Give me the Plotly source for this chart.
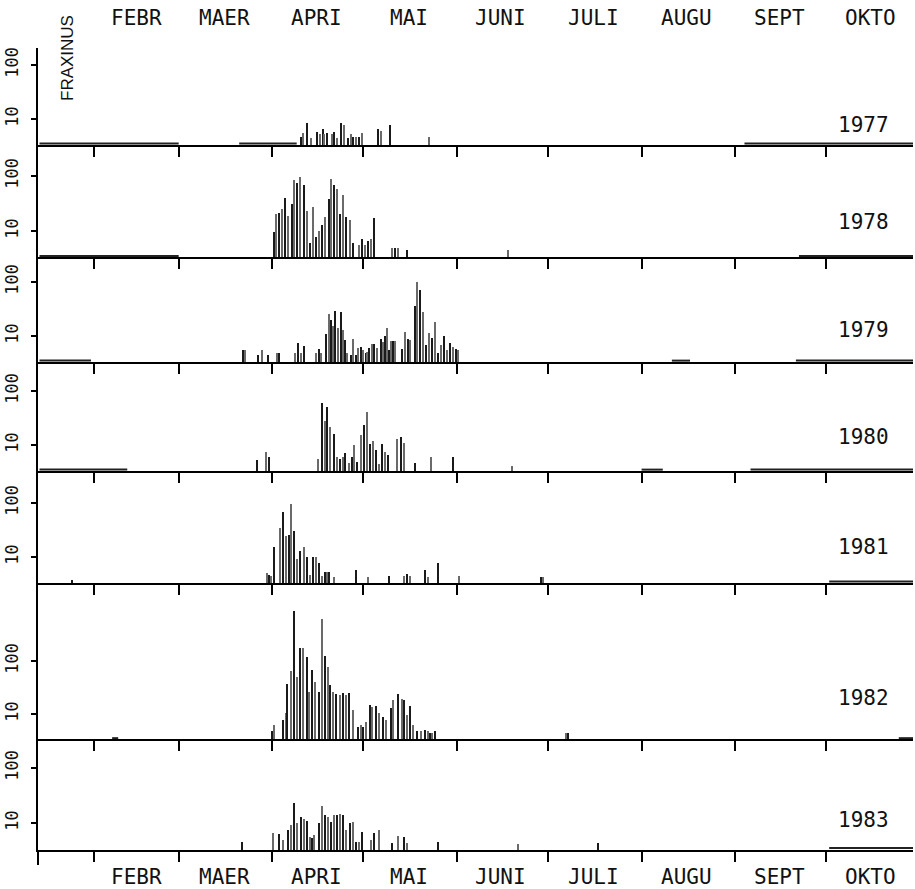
import plotly.graph_objects as go

# ---------------- data ----------------
years = ["1977", "1978", "1979", "1980", "1981", "1982", "1983"]
month_starts = [32, 60, 91, 121, 152, 182, 213, 244, 274]          # day of year
month_mids = [46, 75, 105.5, 136, 166.5, 197, 228, 258.5, 288.5]
month_labels = ["FEBR", "MAER", "APRI", "MAI", "JUNI", "JULI", "AUGU", "SEPT", "OKTO"]
taxon = "FRAXINUS"

days_1977 = [100.4, 101.2, 102.6, 103.7, 105.8, 106.7, 107.6, 108.1, 108.9, 110.8, 111.4, 112.4,
             113.8, 114.6, 116.0, 116.9, 117.7, 118.6, 119.5, 120.7, 125.9, 126.8, 129.9, 142.8]
vals_1977 = [4.6, 5.6, 8.3, 4.4, 5.7, 5.3, 6.5, 5.3, 5.6, 5.3, 5.7, 4.5,
             8.3, 7.6, 4.5, 5.3, 4.6, 4.7, 4.7, 5.5, 6.5, 6.1, 7.9, 4.6]

days_1978 = [91.4, 92.3, 93.3, 94.2, 95.2, 96.2, 97.4, 98.3, 99.3, 100.3, 101.3, 102.5, 103.4,
             104.4, 105.4, 106.3, 107.3, 108.5, 109.6, 110.4, 111.4, 112.4, 113.4, 114.5, 115.4,
             116.5, 117.5, 119.5, 120.6, 121.6, 122.5, 123.5, 124.5, 130.6, 131.4, 132.6, 135.6, 168.9]
vals_1978 = [9.7, 20, 21, 25, 39, 19, 31, 85, 74, 95, 69, 23, 6,
             27, 7.9, 10, 13, 18, 38, 89, 69, 57, 20, 46, 18,
             16, 6, 5.6, 7.2, 5.6, 6.7, 7.2, 17, 4.9, 4.9, 4.9, 4.6, 4.5]

days_1979 = [81.4, 82.1, 86.3, 87.5, 89.4, 92.4, 93.3, 98.4, 99.5, 100.4, 101.4, 105.5, 106.4,
             107.0, 108.6, 109.6, 110.4, 111.0, 111.8, 112.7, 113.7, 114.5, 115.0, 115.8, 116.9,
             117.8, 118.6, 119.4, 120.3, 121.0, 121.8, 122.4, 123.0, 123.8, 124.6, 125.6, 126.8,
             127.7, 128.2, 128.8, 129.4, 130.2, 130.9, 131.7, 133.7, 134.8, 135.7, 136.5, 138.0,
             138.9, 139.9, 140.7, 141.8, 142.9, 143.7, 144.7, 145.8, 146.7, 147.7, 148.7, 149.7,
             150.7, 151.7, 152.3]
vals_1979 = [5.5, 5.5, 4.5, 5.5, 4.5, 4.8, 4.8, 4.8, 7.5, 4.8, 6.5, 4.8, 5.7,
             4.8, 11, 26, 20, 15, 29, 14, 28, 13, 8.4, 4.9, 4.5,
             8.7, 4.5, 5.9, 6.2, 5.5, 4.9, 5.1, 5.9, 7.1, 7.1, 5.9, 8.7,
             7.8, 10, 14, 5.5, 8.2, 8.2, 8.2, 5.7, 12, 8.7, 8.4, 36,
             102, 71, 28, 6.8, 11.5, 9.1, 18, 4.9, 6.8, 10, 5.5, 7.5,
             6.3, 5.7, 5.5]

days_1980 = [86.0, 88.9, 90.0, 106.1, 107.4, 108.3, 109.2, 110.2, 111.3, 112.3, 113.3, 114.3,
             115.1, 116.2, 117.2, 118.1, 119.1, 120.4, 121.3, 122.3, 123.4, 124.3, 125.1, 126.3,
             127.3, 128.3, 129.3, 132.2, 133.4, 134.4, 138.3, 143.5, 150.6, 170.2]
vals_1980 = [5.3, 7.5, 6.1, 5.4, 59, 28, 50, 22, 16, 5.9, 5.4, 5.9,
             7.0, 4.7, 5.9, 10, 4.9, 15, 23, 40, 10.4, 12, 8.1, 4.4,
             10.4, 7.5, 6.5, 13, 14, 10.7, 4.6, 5.9, 5.9, 4.0]

days_1981 = [24.7, 89.1, 90.0, 90.5, 91.4, 93.4, 94.4, 95.4, 96.4, 97.3, 98.2, 99.3, 100.3,
             101.3, 102.3, 103.3, 104.3, 105.3, 106.3, 107.3, 108.3, 109.0, 109.7, 111.4, 118.6,
             122.6, 129.5, 134.6, 135.5, 136.5, 141.4, 142.5, 145.7, 152.6, 179.8, 180.5]
vals_1981 = [3.7, 5.1, 4.6, 4.4, 15, 35, 67, 24, 26, 94, 30, 9.1, 13,
             15, 10, 4.6, 10, 10, 7.6, 4.4, 5.3, 5.3, 5.3, 4.3, 5.7,
             4.3, 4.4, 4.4, 4.9, 4.4, 5.7, 4.3, 7.6, 4.4, 4.3, 4.3]

days_1982 = [91.0, 91.7, 94.4, 95.4, 95.9, 97.1, 98.2, 99.2, 100.1, 101.1, 102.3, 103.1, 104.2,
             105.2, 106.3, 107.3, 108.3, 109.3, 110.2, 111.2, 112.2, 113.3, 114.3, 115.3, 116.4,
             117.6, 119.4, 120.3, 121.0, 122.1, 123.2, 124.1, 125.1, 126.4, 127.5, 128.6, 130.2,
             130.9, 132.6, 133.7, 134.5, 135.4, 136.5, 137.6, 138.7, 140.0, 141.4, 142.3, 143.0, 143.8, 144.6,
             188.0, 188.6]
vals_1982 = [4.7, 6.2, 7.7, 10.6, 37, 66, 870, 49, 174, 174, 120, 26, 68,
             41, 26, 610, 124, 76, 35, 26, 24, 23, 25, 23, 25,
             11.9, 5.8, 6.2, 5.8, 7.2, 15, 13.7, 14, 10.3, 8.9, 7.7, 12.8,
             18, 24, 19, 18, 9.6, 14, 6.2, 4.7, 4.7, 5.0, 4.7, 4.3, 4.3, 4.7,
             4.4, 4.4]

days_1983 = [81.0, 91.3, 93.3, 94.4, 96.2, 97.2, 98.3, 99.3, 100.4, 101.3, 102.3, 103.4, 104.2,
             104.7, 106.5, 107.4, 108.4, 109.4, 110.3, 111.4, 112.4, 113.4, 114.4, 115.5, 116.6,
             117.5, 118.6, 119.6, 120.6, 123.6, 124.6, 126.3, 130.6, 132.6, 134.6, 135.6, 145.6,
             172.2, 198.6]
vals_1983 = [4.6, 6.5, 6.2, 5.0, 7.4, 9.2, 23, 10, 12.7, 12, 11, 5.6, 5.3,
             6, 10, 20, 14, 13, 10.5, 14, 14, 14.4, 14, 7.4, 10,
             10.3, 4.6, 4.6, 6.8, 5, 6.6, 7.4, 4.4, 5.8, 5.6, 4.3, 4.6,
             4.2, 4.4]

# periods with very low counts, drawn as thin runs just above the baseline (start day, end day)
low_1977 = [(14, 60), (80, 99), (247, 303)]
low_1978 = [(14, 60), (265, 303)]
low_1979 = [(14, 31), (223, 229), (264, 303)]
low_1980 = [(14, 43), (213, 220), (249, 303)]
low_1981 = [(275, 303)]
low_1982 = [(38, 40), (298, 303)]
low_1983 = [(275, 303)]
low_level = 3.5

all_days = [days_1977, days_1978, days_1979, days_1980, days_1981, days_1982, days_1983]
all_vals = [vals_1977, vals_1978, vals_1979, vals_1980, vals_1981, vals_1982, vals_1983]
all_low = [low_1977, low_1978, low_1979, low_1980, low_1981, low_1982, low_1983]

# ---------------- layout constants (pixels) ----------------
W, H = 915, 889
X0, X1 = 38, 913
DOY_LO, DOY_HI = 13.5, 302.7
panel_top = [48, 145, 257, 362, 471, 583, 739]
panel_base = [145, 257, 362, 471, 583, 739, 850]
y10_px = [119, 231, 336, 445, 557, 714, 823]
decade_px = [54, 55, 54, 54, 54, 53, 55]
year_label_y = [125, 222, 330, 437, 547, 698, 820]

def py(p):
    return 1 - p / H

fig = go.Figure()
layout = dict(
    width=W, height=H, margin=dict(l=0, r=0, t=0, b=0, autoexpand=False),
    paper_bgcolor="white", plot_bgcolor="rgba(0,0,0,0)",
    showlegend=False, bargap=0,
)

mono = "DejaVu Sans Mono"
bar_colors = ["#1a1a1a", "#6a6a6a"]
annotations = []
for i in range(7):
    n = i + 1
    xa = "x" if n == 1 else f"x{n}"
    ya = "y" if n == 1 else f"y{n}"
    cols = [bar_colors[k % 2] for k in range(len(all_days[i]))]
    fig.add_trace(go.Bar(
        x=all_days[i], y=all_vals[i], xaxis=xa, yaxis=ya,
        width=0.42, marker=dict(color=cols, line=dict(width=0)),
        hoverinfo="x+y",
    ))
    lx, ly = [], []
    for (a, b) in all_low[i]:
        lx += [a, b, None]
        ly += [low_level, low_level, None]
    fig.add_trace(go.Scatter(
        x=lx, y=ly, xaxis=xa, yaxis=ya, mode="lines",
        line=dict(color="#222", width=2), hoverinfo="skip", cliponaxis=False,
    ))
    lo = 1 - (panel_base[i] - y10_px[i]) / decade_px[i]
    hi = lo + (panel_base[i] - panel_top[i]) / decade_px[i]
    layout["xaxis" if n == 1 else f"xaxis{n}"] = dict(
        domain=[X0 / W, X1 / W], range=[DOY_LO, DOY_HI], anchor=ya,
        showline=True, linecolor="black", linewidth=2,
        ticks="outside", tickmode="array", tickvals=month_starts,
        ticklen=10, tickwidth=1.5, tickcolor="black",
        showticklabels=False, showgrid=False, zeroline=False, automargin=False,
    )
    layout["yaxis" if n == 1 else f"yaxis{n}"] = dict(
        type="log", domain=[py(panel_base[i]), py(panel_top[i])], range=[lo, hi],
        anchor=xa, showline=True, linecolor="black", linewidth=2,
        ticks="outside", tickmode="array", tickvals=[10, 100], ticktext=["10", "100"],
        ticklen=5, tickwidth=1.5, tickcolor="black", tickangle=-90,
        tickfont=dict(family=mono, size=17, color="#111"),
        showgrid=False, zeroline=False, ticklabelstandoff=6, automargin=False,
    )
    annotations.append(dict(
        text=years[i], xref="paper", yref="paper", x=863 / W, y=py(year_label_y[i]),
        showarrow=False, xanchor="center", yanchor="middle",
        font=dict(family=mono, size=21, color="#111"),
    ))

for lab, xm in zip(month_labels, month_mids):
    for ypix in (18, 877):
        annotations.append(dict(
            text=lab, xref="x7", yref="paper", x=xm, y=py(ypix),
            showarrow=False, xanchor="center", yanchor="middle",
            font=dict(family=mono, size=21, color="#111"),
        ))

annotations.append(dict(
    text=taxon, xref="paper", yref="paper", x=67 / W, y=py(58), textangle=-90,
    showarrow=False, xanchor="center", yanchor="middle",
    font=dict(family="Liberation Sans", size=17, color="#111"),
))
layout["annotations"] = annotations
layout["shapes"] = [dict(type="line", xref="paper", yref="paper",
                         x0=X0 / W, x1=X0 / W, y0=py(850), y1=py(865),
                         line=dict(color="black", width=2))]
fig.update_layout(**layout)

post_js = (
    "document.documentElement.style.margin='0';document.documentElement.style.padding='0';"
    "document.body.style.margin='0';document.body.style.padding='0';"
    "document.body.style.overflow='hidden';"
    "var gd=document.getElementById('{plot_id}');"
    "Plotly.relayout(gd,{width:915,height:889});"
)
fig.write_html("out.html", config={"responsive": False, "displayModeBar": False},
               post_script=post_js)
